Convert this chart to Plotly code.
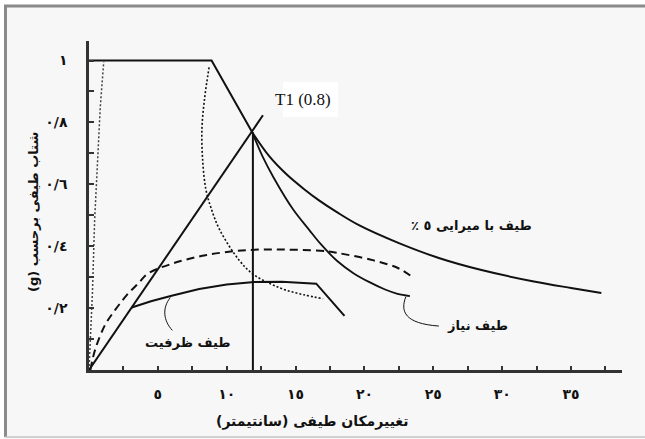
import plotly.graph_objects as go

# --- spectral curves (x: spectral displacement, cm ; y: spectral acceleration, g) ---
# 5% damped elastic spectrum: plateau and descending branch
spec5_top_x = [0.0, 8.9, 11.85]
spec5_top_y = [1.0, 1.0, 0.768]
spec5_x = [11.85, 13.1, 14.3, 15.6, 16.7, 18.0, 19.6, 22.5, 25.4, 28.5, 32.3, 35.0, 37.2]
spec5_y = [0.768, 0.690, 0.634, 0.585, 0.548, 0.510, 0.468, 0.410, 0.362, 0.323, 0.286, 0.265, 0.249]

demand_x = [11.85, 12.6, 13.4, 14.8, 16.0, 16.8, 18.0, 19.2, 20.4, 21.5, 22.4, 23.3]
demand_y = [0.768, 0.690, 0.622, 0.520, 0.452, 0.408, 0.353, 0.313, 0.283, 0.260, 0.246, 0.239]

capacity_x = [3.1, 4.5, 6.0, 8.0, 10.0, 12.0, 14.0, 16.5, 18.55]
capacity_y = [0.202, 0.222, 0.240, 0.262, 0.276, 0.284, 0.285, 0.279, 0.175]

dashed_x = [0.1, 0.44, 1.16, 1.9, 2.74, 3.58, 4.3, 6.07, 8.46, 11.4, 14.4, 17.4, 18.2, 20.6, 22.5, 23.6]
dashed_y = [0.0, 0.065, 0.145, 0.194, 0.242, 0.280, 0.312, 0.344, 0.371, 0.387, 0.389, 0.383, 0.377, 0.355, 0.328, 0.296]

dotted_left_x = [0.0, 0.12, 0.25, 0.41, 0.51, 0.65, 0.82, 1.07]
dotted_left_y = [0.0, 0.10, 0.25, 0.485, 0.58, 0.711, 0.851, 0.996]

dotted_right_x = [8.72, 8.4, 8.2, 8.25, 8.48, 8.85, 9.5, 10.9, 11.9, 13.1, 14.3, 15.6, 17.0]
dotted_right_y = [0.978, 0.88, 0.78, 0.68, 0.585, 0.525, 0.452, 0.355, 0.310, 0.280, 0.258, 0.243, 0.230]

period_x = [0.0, 12.63]          # radial line of the period T1
period_y = [0.0, 0.823]
perf_x = [11.9, 11.9]            # performance point drop line
perf_y = [0.0, 0.768]

# --- axes ---
x_tickvals = [5, 10, 15, 20, 25, 30, 35]
x_ticktext = ["٥", "١٠", "١٥", "٢٠", "٢٥", "٣٠", "٣٥"]
y_tickvals = [0.2, 0.4, 0.6, 0.8, 1.0]
y_ticktext = ["٠/٢", "٠/٤", "٠/٦", "٠/٨", "١"]

RLE, PDF = "\u202B", "\u202C"


def rtl(s):
    return RLE + s + PDF


x_title = rtl("تغییرمکان طیفی (سانتیمتر)")
y_title = rtl("شتاب طیفی برحسب (g)")
label_spec5 = rtl("طیف با میرایی ٥ ٪")
label_demand = rtl("طیف نیاز")
label_capacity = rtl("طیف ظرفیت")
label_period = "T1 (0.8)"

AR_FONT = "DejaVu Sans"
INK = "#111111"
AXIS = "#333333"

W, H = 645, 439
L, R, T, B = 89, 622, 41, 370


def pxx(px):
    return (px - L) / (R - L)


def pxy(py):
    return (B - py) / (B - T)


fig = go.Figure()

line = dict(color=INK, width=2)
fig.add_trace(go.Scatter(x=spec5_top_x, y=spec5_top_y, mode="lines", line=line, hoverinfo="skip"))
fig.add_trace(go.Scatter(x=spec5_x, y=spec5_y, mode="lines", line=line, line_shape="spline",
                         hoverinfo="skip"))
fig.add_trace(go.Scatter(x=demand_x, y=demand_y, mode="lines", line=dict(color=INK, width=1.8),
                         line_shape="spline", hoverinfo="skip"))
fig.add_trace(go.Scatter(x=capacity_x, y=capacity_y, mode="lines", line=line, hoverinfo="skip"))
fig.add_trace(go.Scatter(x=dashed_x, y=dashed_y, mode="lines",
                         line=dict(color=INK, width=2, dash="8px,5px"), line_shape="spline",
                         hoverinfo="skip"))
fig.add_trace(go.Scatter(x=dotted_left_x, y=dotted_left_y, mode="lines",
                         line=dict(color="#444444", width=1.5, dash="2px,2px"), hoverinfo="skip"))
fig.add_trace(go.Scatter(x=dotted_right_x, y=dotted_right_y, mode="lines",
                         line=dict(color=INK, width=1.6, dash="2px,2px"), line_shape="spline",
                         hoverinfo="skip"))
fig.add_trace(go.Scatter(x=period_x, y=period_y, mode="lines", line=line, hoverinfo="skip"))
fig.add_trace(go.Scatter(x=perf_x, y=perf_y, mode="lines", line=line, hoverinfo="skip"))

shapes = [
    # page frame: white margin strips outside a grey rule
    dict(type="rect", xref="paper", yref="paper", x0=pxx(0), x1=pxx(W), y0=pxy(0), y1=pxy(5),
         fillcolor="white", line=dict(width=0), layer="below"),
    dict(type="rect", xref="paper", yref="paper", x0=pxx(0), x1=pxx(4), y0=pxy(0), y1=pxy(H),
         fillcolor="white", line=dict(width=0), layer="below"),
    dict(type="line", xref="paper", yref="paper", x0=pxx(4), x1=pxx(W), y0=pxy(6), y1=pxy(6),
         line=dict(color="#8a8a8a", width=3)),
    dict(type="line", xref="paper", yref="paper", x0=pxx(5.5), x1=pxx(5.5), y0=pxy(5), y1=pxy(437),
         line=dict(color="#8a8a8a", width=3)),
    dict(type="line", xref="paper", yref="paper", x0=pxx(5), x1=pxx(W), y0=pxy(437), y1=pxy(437),
         line=dict(color="#c4c4c4", width=1.5)),
    # white box behind the period label
    dict(type="rect", xref="paper", yref="paper", x0=pxx(283), x1=pxx(338), y0=pxy(82), y1=pxy(117),
         fillcolor="white", line=dict(width=0), layer="below"),
    # leader lines
    dict(type="path", xref="x", yref="y",
         path="M 23.0,0.236 C 22.6,0.19 22.9,0.15 25.4,0.142",
         line=dict(color=INK, width=1)),
    dict(type="path", xref="x", yref="y",
         path="M 5.9,0.234 C 5.3,0.20 5.4,0.16 6.05,0.128",
         line=dict(color=INK, width=1)),
]

lbl_font = dict(family=AR_FONT, size=13, color=INK, weight="bold")


def note(px, py, text, font, angle=0):
    return dict(x=pxx(px), y=pxy(py), xref="paper", yref="paper", text=text, showarrow=False,
                xanchor="center", yanchor="middle", textangle=angle, font=font)


annotations = [
    note(472, 226, label_spec5, lbl_font),
    note(477, 325, label_demand, lbl_font),
    note(187, 342, label_capacity, lbl_font),
    note(303, 99, label_period, dict(family="Liberation Serif", size=17, color=INK)),
    note(312, 422, x_title, dict(family=AR_FONT, size=14, color=INK, weight="bold")),
    note(33, 212, y_title, lbl_font, angle=-90),
]

tick_font = dict(family=AR_FONT, size=14, color=INK, weight="bold")
fig.update_layout(
    template="none",
    width=W, height=H,
    autosize=False,
    margin=dict(l=L, r=W - R, t=T, b=H - B, pad=0, autoexpand=False),
    paper_bgcolor="#f7f7f7",
    plot_bgcolor="rgba(0,0,0,0)",
    showlegend=False,
    shapes=shapes,
    annotations=annotations,
    xaxis=dict(
        range=[0, 38.7], showgrid=False, zeroline=False, automargin=False,
        showline=True, linecolor=AXIS, linewidth=3,
        tickmode="array", tickvals=x_tickvals, ticktext=x_ticktext,
        ticks="inside", ticklen=4, tickwidth=2, tickcolor=AXIS,
        ticklabelstandoff=9,
        tickfont=tick_font,
        minor=dict(tickmode="linear", tick0=0, dtick=2.5, ticks="inside", ticklen=4,
                   tickwidth=2, tickcolor=AXIS),
    ),
    yaxis=dict(
        range=[0, 1.063], showgrid=False, zeroline=False, automargin=False,
        showline=True, linecolor=AXIS, linewidth=2.5,
        tickmode="array", tickvals=y_tickvals, ticktext=y_ticktext,
        ticks="inside", ticklen=5, tickwidth=2, tickcolor=AXIS,
        ticklabelstandoff=16,
        tickfont=tick_font,
        minor=dict(tickmode="linear", tick0=0, dtick=0.1, ticks="inside", ticklen=5,
                   tickwidth=2, tickcolor=AXIS),
    ),
)

# keep the page free of scrollbars around the fixed-size figure
page_js = ("document.documentElement.style.overflow='hidden';"
           "document.body.style.overflow='hidden';document.body.style.margin='0';")
fig.write_html("out.html", post_script=page_js, config={"displayModeBar": False})
